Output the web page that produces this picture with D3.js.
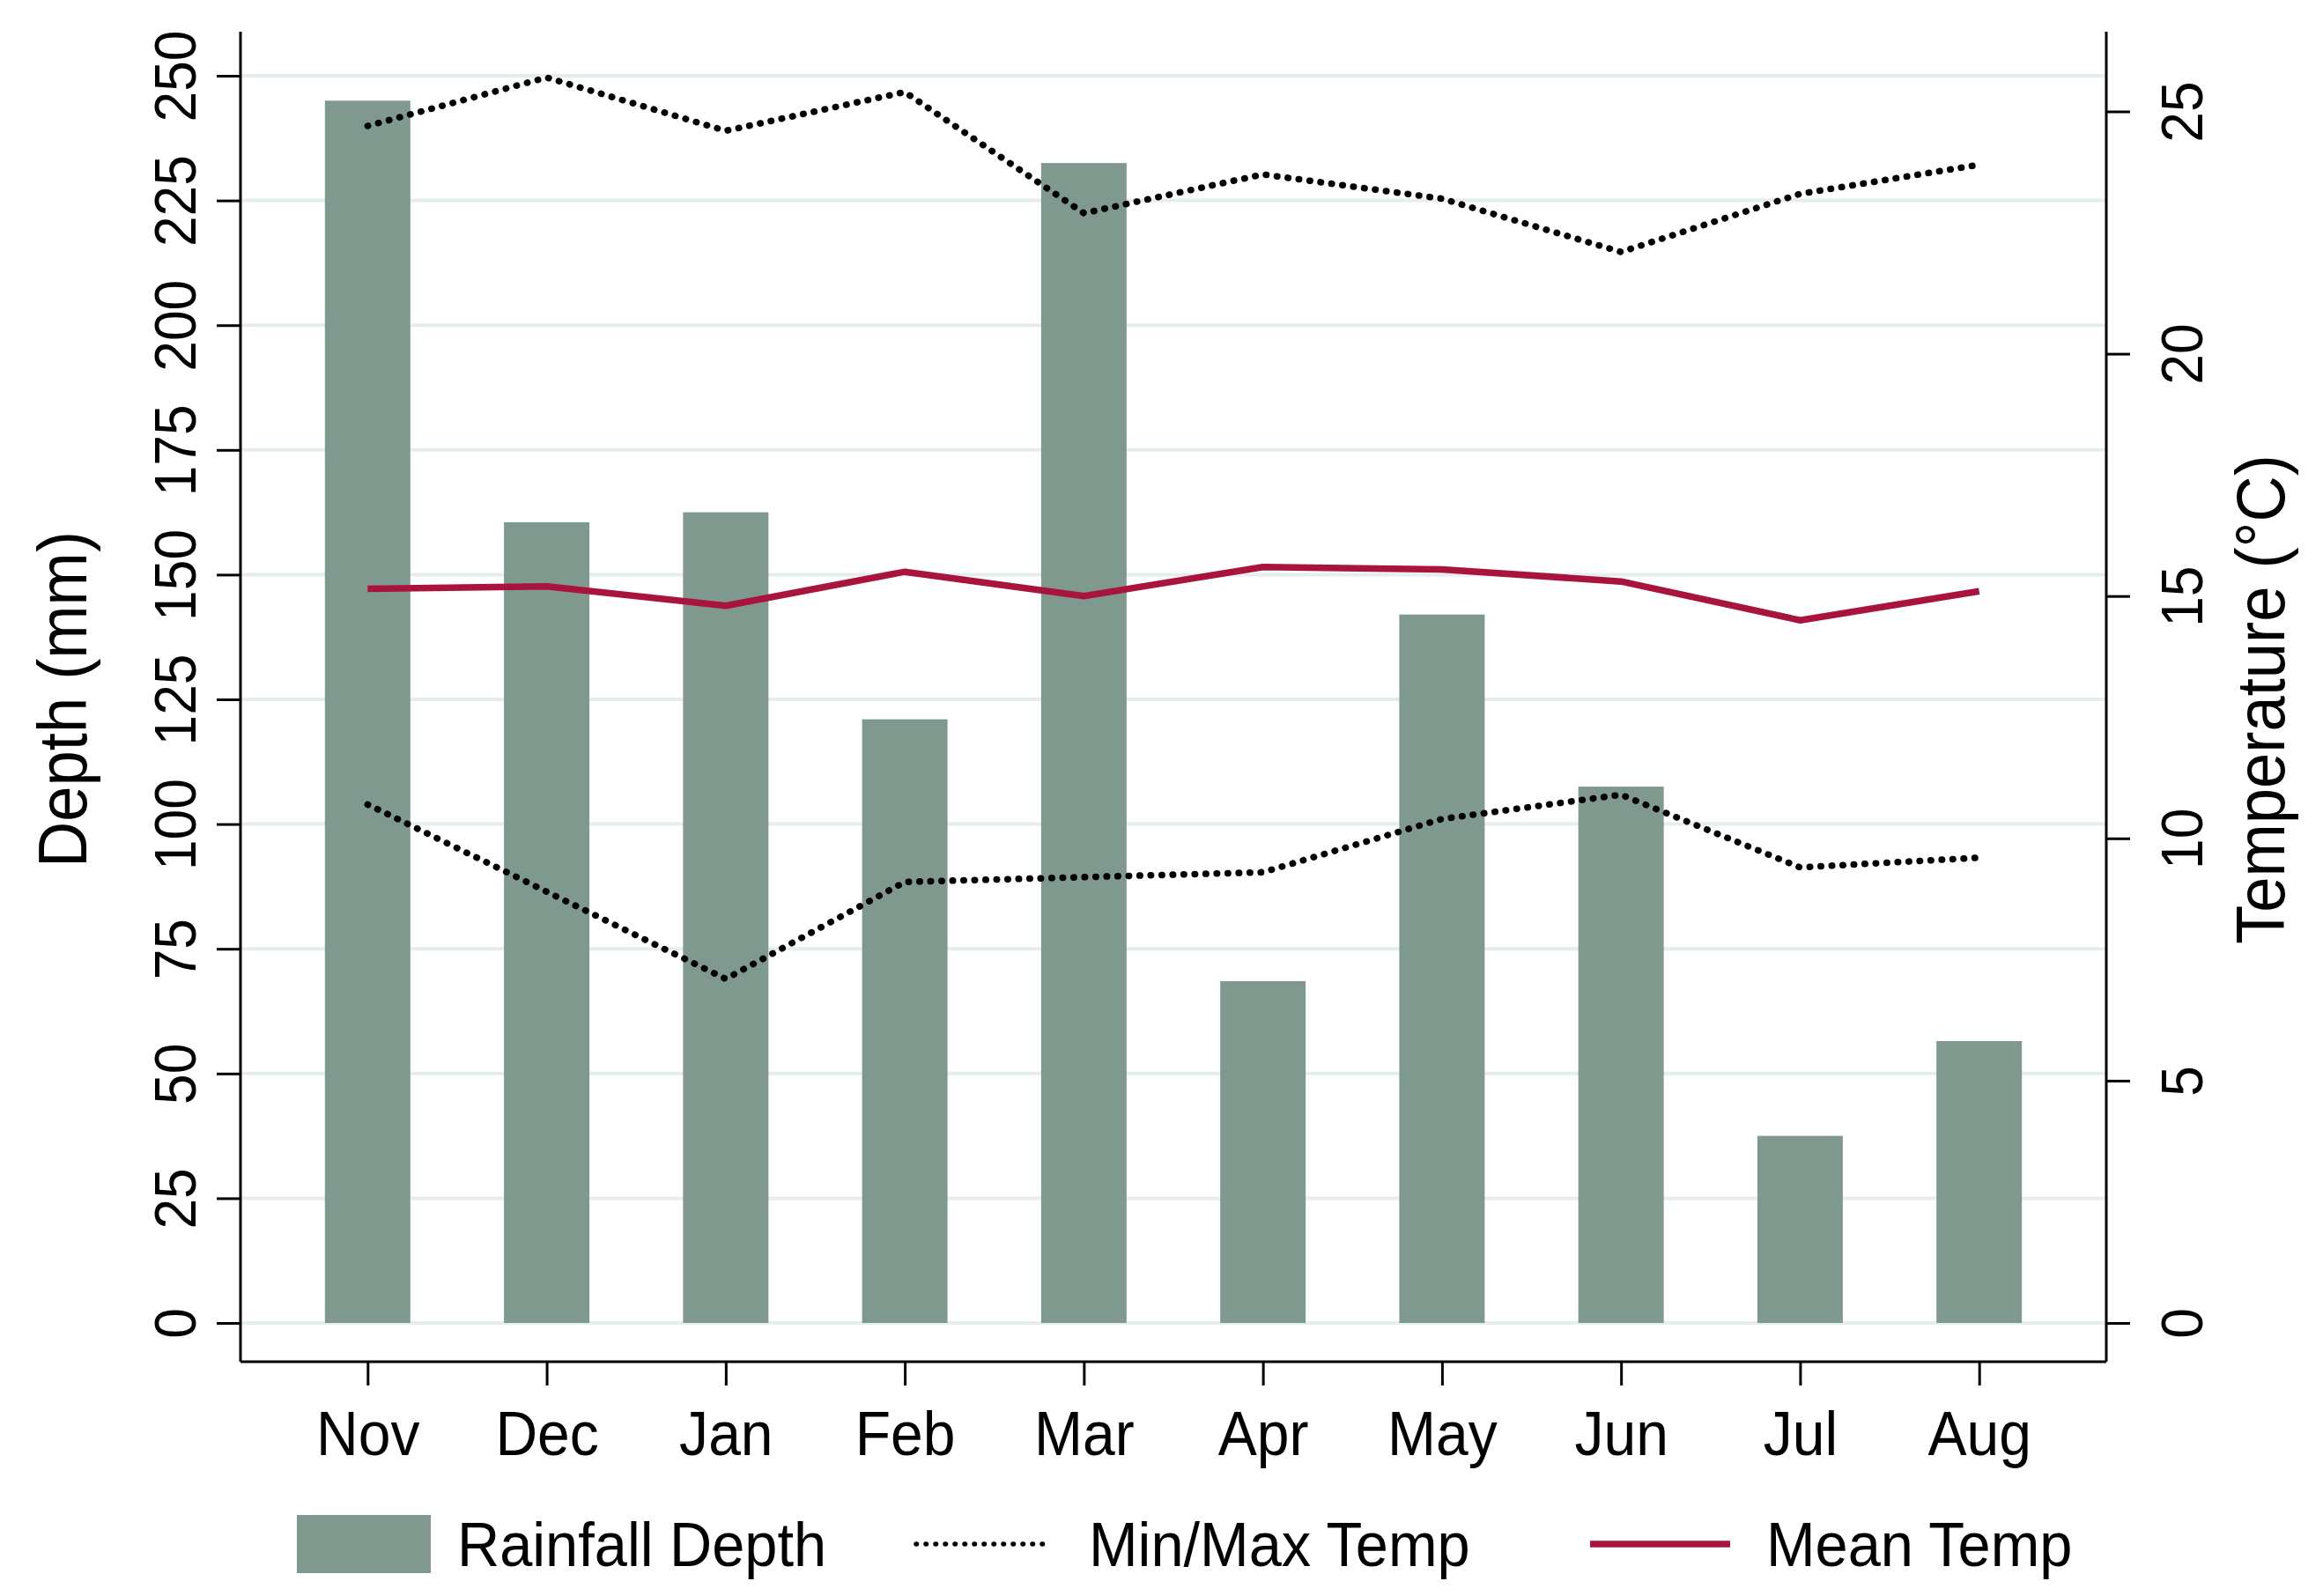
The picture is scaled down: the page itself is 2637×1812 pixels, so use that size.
<!DOCTYPE html>
<html>
<head>
<meta charset="utf-8">
<script src="https://cdn.jsdelivr.net/npm/d3@7"></script>
<style>
  body { margin: 0; background: #fff; }
  text { font-family: "Liberation Sans", Arial, sans-serif; fill: #000; }
</style>
</head>
<body>
<svg id="chart"></svg>
<script>
// Values
const months = ['Nov', 'Dec', 'Jan', 'Feb', 'Mar', 'Apr', 'May', 'Jun', 'Jul', 'Aug'];
const rainfall = [245, 160.5, 162.5, 121, 232.5, 68.5, 142, 107.5, 37.5, 56.5];
const maxTemp = [24.7, 25.7, 24.6, 25.4, 22.9, 23.7, 23.2, 22.1, 23.3, 23.9];
const minTemp = [10.7, 8.9, 7.1, 9.1, 9.2, 9.3, 10.4, 10.9, 9.4, 9.6];
const meanTemp = [15.15, 15.2, 14.8, 15.5, 15.0, 15.6, 15.55, 15.3, 14.5, 15.1];
const depthTicks = [0, 25, 50, 75, 100, 125, 150, 175, 200, 225, 250];
const tempTicks = [0, 5, 10, 15, 20, 25];

const width = 2637;
const height = 1812;

const plot = {left: 273, right: 2391, top: 36, bottom: 1546};

const barColor = '#7f998f';
const meanColor = '#a8143e';

const svg = d3.select('#chart')
  .attr('width', width)
  .attr('height', height);

const x = d3.scalePoint()
  .domain(months)
  .range([plot.left, plot.right])
  .padding(0.71);

const y = d3.scaleLinear()
  .domain([0, 250])
  .range([1502, 86]);

const yT = d3.scaleLinear()
  .domain([0, 25])
  .range([1502, 126.5]);

// gridlines on the depth ticks
svg.append('g')
  .selectAll('line')
  .data(depthTicks)
  .join('line')
  .attr('x1', plot.left)
  .attr('x2', plot.right)
  .attr('y1', d => y(d))
  .attr('y2', d => y(d))
  .attr('stroke', '#e5edf1')
  .attr('stroke-width', 4);

// bars
const barW = x.step() * 0.477;
svg.append('g')
  .selectAll('rect')
  .data(months)
  .join('rect')
  .attr('x', d => x(d) - barW / 2)
  .attr('y', (d, i) => y(rainfall[i]))
  .attr('width', barW)
  .attr('height', (d, i) => y(0) - y(rainfall[i]))
  .attr('fill', barColor);

const line = d3.line()
  .x((d, i) => x(months[i]))
  .y(d => yT(d));

// min / max dotted lines
[maxTemp, minTemp].forEach(series => {
  svg.append('path')
    .datum(series)
    .attr('d', line)
    .attr('fill', 'none')
    .attr('stroke', '#000')
    .attr('stroke-width', 7.5)
    .attr('stroke-linecap', 'round')
    .attr('stroke-dasharray', '0.5 12');
});

// mean line
svg.append('path')
  .datum(meanTemp)
  .attr('d', line)
  .attr('fill', 'none')
  .attr('stroke', meanColor)
  .attr('stroke-width', 7.5)
  .attr('stroke-linejoin', 'round');

// axes
const axisLeft = d3.axisLeft(y)
  .tickValues(depthTicks)
  .tickSize(27)
  .tickFormat(d3.format('d'));

const gL = svg.append('g')
  .attr('transform', `translate(${plot.left},0)`)
  .call(axisLeft);

const axisRight = d3.axisRight(yT)
  .tickValues(tempTicks)
  .tickSize(27)
  .tickFormat(d3.format('d'));

const gR = svg.append('g')
  .attr('transform', `translate(${plot.right},0)`)
  .call(axisRight);

const axisBottom = d3.axisBottom(x)
  .tickSize(27);

const gB = svg.append('g')
  .attr('transform', `translate(0,${plot.bottom})`)
  .call(axisBottom);

[gL, gR, gB].forEach(g => {
  g.select('.domain').remove();
  g.selectAll('.tick line').attr('stroke', '#000').attr('stroke-width', 3);
  g.selectAll('.tick text').attr('fill', '#000');
});

// rotated tick labels on both y axes (slightly condensed like the original)
gL.selectAll('.tick text')
  .attr('x', null).attr('dy', null)
  .attr('transform', 'translate(-51,0) rotate(-90) scale(0.93,1)')
  .attr('text-anchor', 'middle')
  .style('font-size', '67px');

gR.selectAll('.tick text')
  .attr('x', null).attr('dy', null)
  .attr('transform', 'translate(109,0) rotate(-90) scale(0.93,1)')
  .attr('text-anchor', 'middle')
  .style('font-size', '67px');

gB.selectAll('.tick text')
  .attr('y', null).attr('dy', null)
  .attr('transform', 'translate(0,106) scale(0.93,1)')
  .style('font-size', '71px');

// axis lines
svg.append('g')
  .attr('stroke', '#000')
  .attr('stroke-width', 3)
  .selectAll('line')
  .data([
    [plot.left, plot.top, plot.left, plot.bottom],
    [plot.right, plot.top, plot.right, plot.bottom],
    [plot.left, plot.bottom, plot.right, plot.bottom]
  ])
  .join('line')
  .attr('x1', d => d[0]).attr('y1', d => d[1])
  .attr('x2', d => d[2]).attr('y2', d => d[3]);

// axis titles
const midY = (y(0) + y(250)) / 2;
svg.append('text')
  .attr('transform', `translate(98,${midY}) rotate(-90) scale(0.94,1)`)
  .attr('text-anchor', 'middle')
  .style('font-size', '77px')
  .text('Depth (mm)');

svg.append('text')
  .attr('transform', `translate(2593,${midY}) rotate(-90) scale(0.94,1)`)
  .attr('text-anchor', 'middle')
  .style('font-size', '77px')
  .text('Temperature (°C)');

// legend
const legend = svg.append('g');
const legY = 1753;

legend.append('rect')
  .attr('x', 337).attr('y', legY - 33)
  .attr('width', 152).attr('height', 66)
  .attr('fill', barColor);

legend.append('line')
  .attr('x1', 1040).attr('x2', 1188)
  .attr('y1', legY).attr('y2', legY)
  .attr('stroke', '#000')
  .attr('stroke-width', 5.5)
  .attr('stroke-linecap', 'round')
  .attr('stroke-dasharray', '0.5 10.5');

legend.append('line')
  .attr('x1', 1805).attr('x2', 1964)
  .attr('y1', legY).attr('y2', legY)
  .attr('stroke', meanColor)
  .attr('stroke-width', 7.5);

const legendLabels = [
  {x: 519, label: 'Rainfall Depth'},
  {x: 1236, label: 'Min/Max Temp'},
  {x: 2005, label: 'Mean Temp'}
];
legend.selectAll('text.label')
  .data(legendLabels)
  .join('text')
  .attr('class', 'label')
  .attr('transform', d => `translate(${d.x},${legY + 25}) scale(0.94,1)`)
  .style('font-size', '71px')
  .text(d => d.label);
</script>
</body>
</html>
